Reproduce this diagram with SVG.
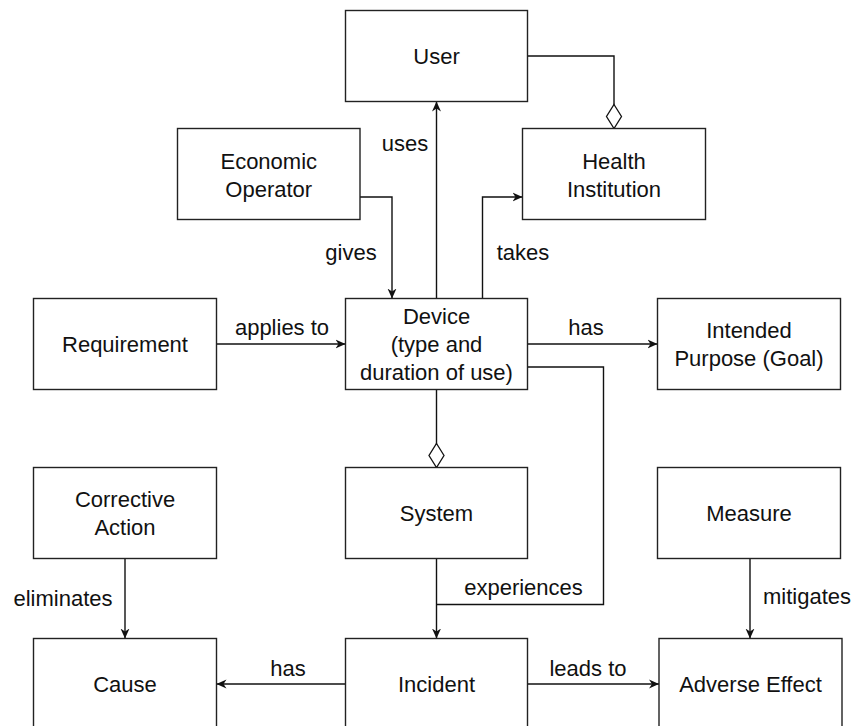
<svg xmlns="http://www.w3.org/2000/svg" width="855" height="726" viewBox="0 0 855 726">
<style>
.box{fill:#fff;stroke:#222;stroke-width:1.4}
.t{font-family:"Liberation Sans",Arial,Helvetica,sans-serif;font-size:22px;fill:#111;text-anchor:middle}
.e{fill:none;stroke:#111;stroke-width:1.4}
</style>
<defs>
<marker id="arr" viewBox="0 0 10 10" refX="10" refY="5" markerWidth="10" markerHeight="10" markerUnits="userSpaceOnUse" orient="auto">
<path d="M0,0.5 L10,5 L0,9.5 L3,5 Z" fill="#111"/>
</marker>
<marker id="dia" viewBox="-1 -1 26 17" refX="24" refY="7.5" markerWidth="26" markerHeight="17" markerUnits="userSpaceOnUse" orient="auto" overflow="visible">
<path d="M0,7.5 L12,0 L24,7.5 L12,15 Z" fill="#fff" stroke="#111" stroke-width="1.3"/>
</marker>
</defs>
<rect width="855" height="726" fill="#fff"/>
<g id="connectors">
<path class="e" d="M436.5,298.5 V101.5" marker-end="url(#arr)"/>
<path class="e" d="M360,197 H392 V298.5" marker-end="url(#arr)"/>
<path class="e" d="M482.5,298.5 V197 H522.5" marker-end="url(#arr)"/>
<path class="e" d="M527.5,56 H614 V128.5" marker-end="url(#dia)"/>
<path class="e" d="M216.5,344 H345.5" marker-end="url(#arr)"/>
<path class="e" d="M527.5,344 H657.5" marker-end="url(#arr)"/>
<path class="e" d="M436.5,389.5 V467.5" marker-end="url(#dia)"/>
<path class="e" d="M527.5,367 H603.5 V604.5 H436.5"/>
<path class="e" d="M436.5,558.5 V638.5" marker-end="url(#arr)"/>
<path class="e" d="M125,558.5 V638.5" marker-end="url(#arr)"/>
<path class="e" d="M750,558.5 V638.5" marker-end="url(#arr)"/>
<path class="e" d="M345.5,684 H216.5" marker-end="url(#arr)"/>
<path class="e" d="M527.5,684 H659" marker-end="url(#arr)"/>
<text class="t" x="405" y="151">uses</text>
<text class="t" x="351" y="260">gives</text>
<text class="t" x="523" y="260">takes</text>
<text class="t" x="282" y="335">applies to</text>
<text class="t" x="586" y="335">has</text>
<text class="t" x="63" y="606">eliminates</text>
<text class="t" x="523.5" y="595">experiences</text>
<text class="t" x="807" y="604">mitigates</text>
<text class="t" x="288" y="676">has</text>
<text class="t" x="588" y="676">leads to</text>
</g>
<g id="user"><rect class="box" x="345.5" y="10.5" width="182" height="91"/><text class="t" x="436.5" y="64">User</text></g>
<g id="economic-operator"><rect class="box" x="177.5" y="128.5" width="182.5" height="91"/><text class="t" x="268.75" y="168.5">Economic</text><text class="t" x="268.75" y="196.5">Operator</text></g>
<g id="health-institution"><rect class="box" x="522.5" y="128.5" width="183" height="91"/><text class="t" x="614" y="168.5">Health</text><text class="t" x="614" y="196.5">Institution</text></g>
<g id="requirement"><rect class="box" x="33.5" y="298.5" width="183" height="91"/><text class="t" x="125" y="352">Requirement</text></g>
<g id="device"><rect class="box" x="345.5" y="298.5" width="182" height="91"/><text class="t" x="436.5" y="323.5">Device</text><text class="t" x="436.5" y="351.5">(type and</text><text class="t" x="436.5" y="379.5">duration of use)</text></g>
<g id="intended-purpose"><rect class="box" x="657.5" y="298.5" width="183" height="91"/><text class="t" x="749" y="338">Intended</text><text class="t" x="749" y="366">Purpose (Goal)</text></g>
<g id="corrective-action"><rect class="box" x="33.5" y="467.5" width="183" height="91"/><text class="t" x="125" y="507">Corrective</text><text class="t" x="125" y="535">Action</text></g>
<g id="system"><rect class="box" x="345.5" y="467.5" width="182" height="91"/><text class="t" x="436.5" y="521">System</text></g>
<g id="measure"><rect class="box" x="657.5" y="467.5" width="183" height="91"/><text class="t" x="749" y="521">Measure</text></g>
<g id="cause"><rect class="box" x="33.5" y="638.5" width="183" height="91"/><text class="t" x="125" y="691.5">Cause</text></g>
<g id="incident"><rect class="box" x="345.5" y="638.5" width="182" height="91"/><text class="t" x="436.5" y="691.5">Incident</text></g>
<g id="adverse-effect"><rect class="box" x="659" y="638.5" width="183" height="91"/><text class="t" x="750.5" y="691.5">Adverse Effect</text></g>
</svg>
